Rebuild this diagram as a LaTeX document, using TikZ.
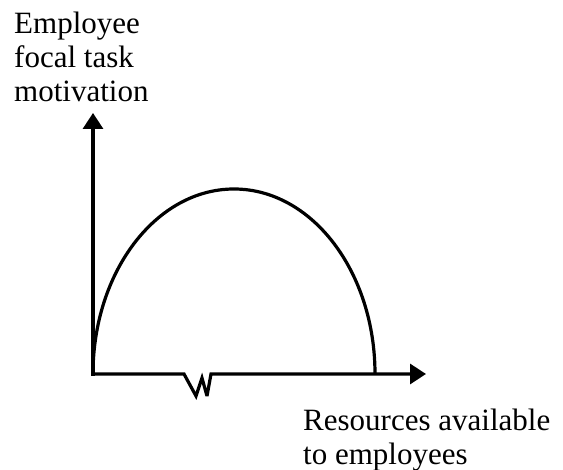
\documentclass[tikz,border=0pt]{standalone}
\usepackage{fontspec}
\setmainfont{Liberation Serif}
\usetikzlibrary{arrows.meta, positioning}

\begin{document}
\begin{tikzpicture}[
    x=1pt, y=1pt,
    axis/.style={line width=3.2pt, -{Triangle[length=16pt, width=20pt]}},
    curve/.style={line width=3.2pt},
    label/.style={font=\fontsize{31}{34}\selectfont, align=left,
                  inner sep=0pt, anchor=north west},
  ]
    \useasboundingbox (0,0) rectangle (563,470);
    \coordinate (o) at (93,96);
    \coordinate (ytip) at (93,357);
    \coordinate (xtip) at (426,96);
    % axes with the break on the horizontal one
    \draw[axis] ([yshift=-1.6pt]o) -- (ytip);
    \draw[axis, miter limit=4] ([xshift=-1.6pt]o) -- (184,96) -- (196,74)
      -- (202,92) -- (207,74) -- (211,96) -- (xtip);
    % inverted U
    \draw[curve] (o) arc[start angle=180, end angle=0,
      x radius=141, y radius=185];
    \node[label] (ylab) at (14,458) {Employee\\focal task\\motivation};
    \node[label] (xlab) at (303,61) {Resources available\\to employees};
\end{tikzpicture}
\end{document}
